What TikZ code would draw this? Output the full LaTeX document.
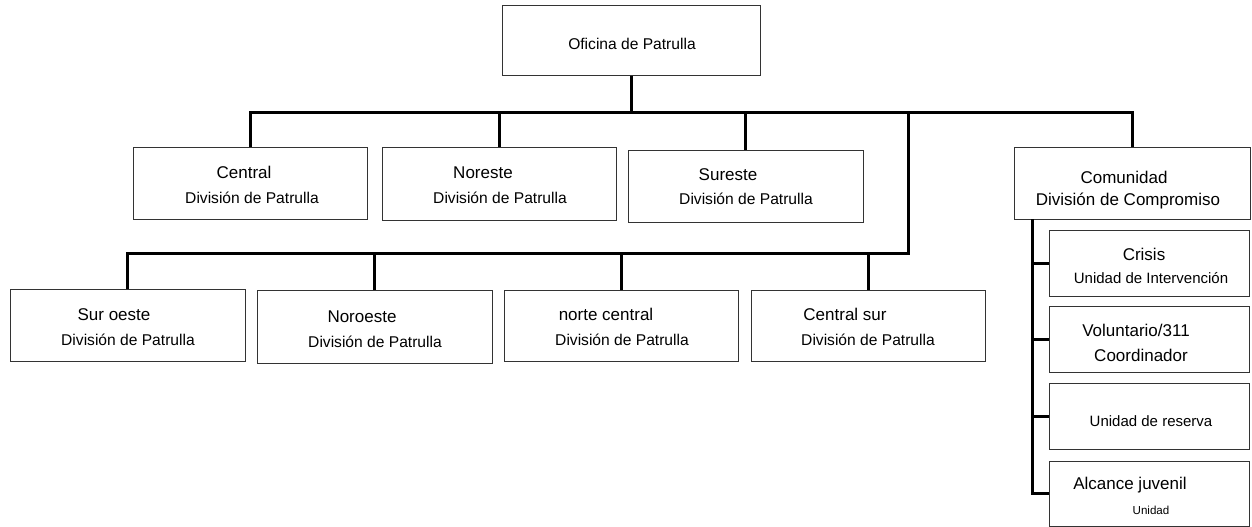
\documentclass[tikz,border=0pt]{standalone}
\usepackage{fontspec}
\setmainfont{Liberation Sans}
\begin{document}
\begin{tikzpicture}[x=1pt,y=-1pt,
  box/.style={draw=black!80, line width=1pt, rectangle, inner sep=0pt, fill=white},
  conn/.style={line width=3pt, black},
  hd/.style={font=\fontsize{17}{20}\selectfont, anchor=base, inner sep=0pt},
  sub/.style={font=\fontsize{15.6}{18}\selectfont, anchor=base, inner sep=0pt},
  small/.style={font=\fontsize{15}{18}\selectfont, anchor=base, inner sep=0pt},
  tiny/.style={font=\fontsize{11.6}{14}\selectfont, anchor=base, inner sep=0pt}]
\useasboundingbox (0,0) rectangle (1252,527);
% boxes
\node[box, minimum width=258pt, minimum height=69pt] (top) at (631,40.5) {};
\node[box, minimum width=234pt, minimum height=72pt] (cen) at (250,183) {};
\node[box, minimum width=234pt, minimum height=73pt] (ne) at (499,183.5) {};
\node[box, minimum width=235pt, minimum height=72pt] (se) at (745.5,186) {};
\node[box, minimum width=236pt, minimum height=72pt] (com) at (1132,183) {};
\node[box, minimum width=200pt, minimum height=66pt] (cr) at (1149,263) {};
\node[box, minimum width=200pt, minimum height=66pt] (vo) at (1149,339) {};
\node[box, minimum width=200pt, minimum height=66pt] (re) at (1149,416) {};
\node[box, minimum width=200pt, minimum height=65pt] (aj) at (1149,493.5) {};
\node[box, minimum width=235pt, minimum height=72pt] (so) at (127.5,325) {};
\node[box, minimum width=235pt, minimum height=73pt] (no) at (374.5,326.5) {};
\node[box, minimum width=234pt, minimum height=71pt] (nc) at (621,325.5) {};
\node[box, minimum width=234pt, minimum height=71pt] (cs) at (868,325.5) {};
% texts
\node[sub] (t0) at (632,49) {Oficina de Patrulla};
\node[hd] (t1a) at (244,178) {Central};
\node[sub] (t1b) at (252,203) {División de Patrulla};
\node[hd] (t2a) at (483,178) {Noreste};
\node[sub] (t2b) at (500,203) {División de Patrulla};
\node[hd] (t3a) at (728,180) {Sureste};
\node[sub] (t3b) at (746,204) {División de Patrulla};
\node[hd] (t4a) at (1124,183) {Comunidad};
\node[hd] (t4b) at (1128,205) {División de Compromiso};
\node[hd] (t5a) at (1144,260) {Crisis};
\node[small] (t5b) at (1151,283) {Unidad de Intervención};
\node[hd] (t6a) at (1136,336) {Voluntario/311};
\node[hd] (t6b) at (1141,361) {Coordinador};
\node[small] (t7) at (1151,426) {Unidad de reserva};
\node[hd] (t8a) at (1130,489) {Alcance juvenil};
\node[tiny] (t8b) at (1151,514) {Unidad};
\node[hd] (t9a) at (114,320) {Sur oeste};
\node[sub] (t9b) at (128,345) {División de Patrulla};
\node[hd] (t10a) at (362,322) {Noroeste};
\node[sub] (t10b) at (375,347) {División de Patrulla};
\node[hd] (t11a) at (606,320) {norte central};
\node[sub] (t11b) at (622,345) {División de Patrulla};
\node[hd] (t12a) at (845,320) {Central sur};
\node[sub] (t12b) at (868,345) {División de Patrulla};
% connectors
\coordinate (b1) at (631,112);
\coordinate (j1) at (908,112);
\coordinate (b2) at (908,253);
\coordinate (sp) at (1032,219);
\draw[conn] (top.south) -- (b1);
\draw[conn] (cen.north) |- (b1) -| (com.north);
\draw[conn] (ne.north) -- (ne.north |- b1);
\draw[conn] (se.north) -- (se.north |- b1);
\draw[conn] (j1) -- (b2) -| (so.north);
\draw[conn] (no.north) -- (no.north |- b2);
\draw[conn] (nc.north) -- (nc.north |- b2);
\draw[conn] (cs.north) -- (cs.north |- b2);
\draw[conn] (sp) |- (aj.west);
\draw[conn] (cr.west) -- (cr.west -| sp);
\draw[conn] (vo.west) -- (vo.west -| sp);
\draw[conn] (re.west) -- (re.west -| sp);
\end{tikzpicture}
\end{document}
